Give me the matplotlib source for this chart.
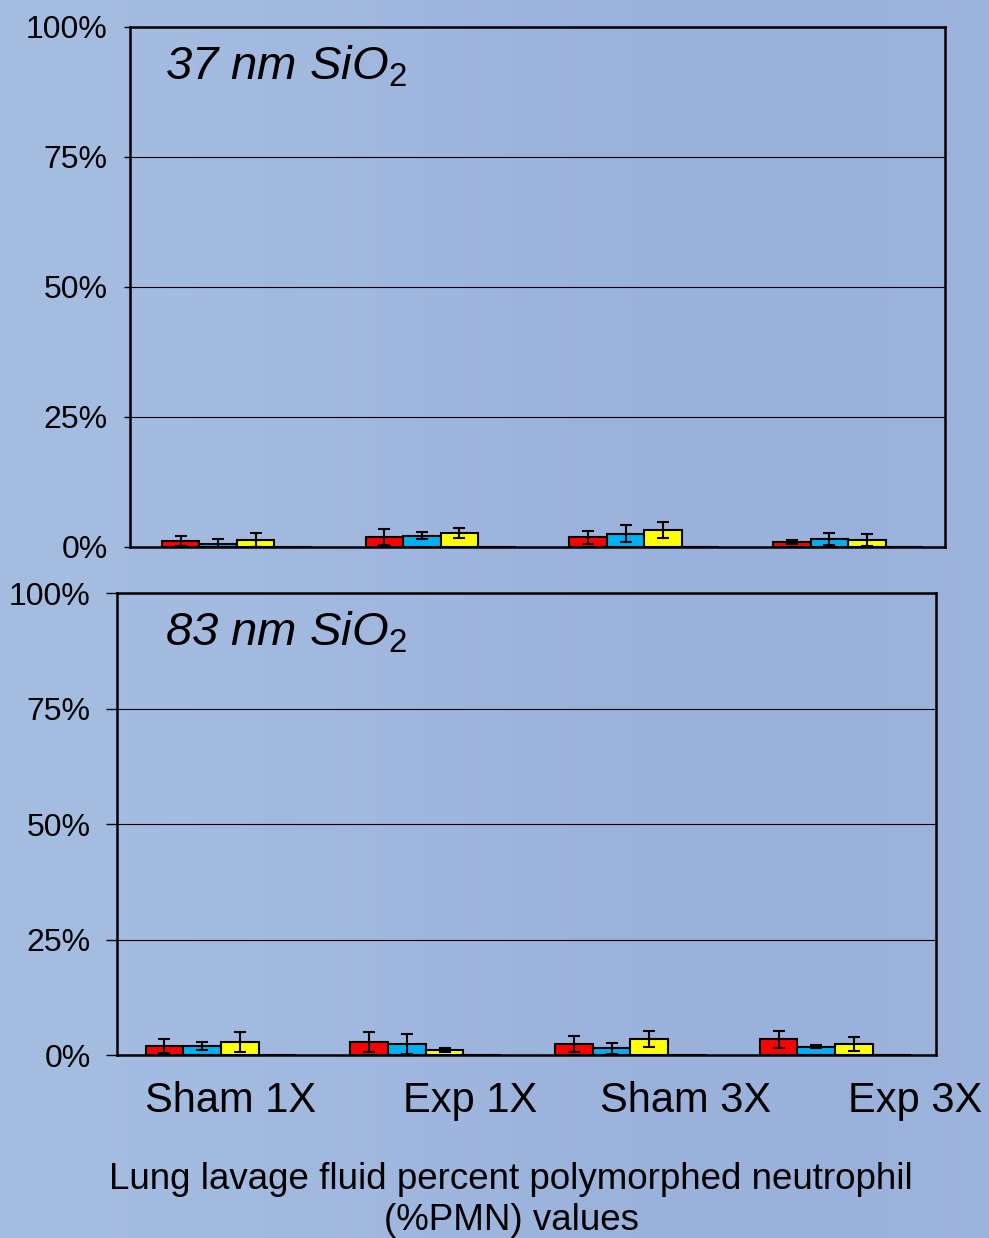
import numpy as np
import matplotlib
matplotlib.use('Agg')
import matplotlib.pyplot as plt
from matplotlib.transforms import offset_copy

plt.rcParams['font.family'] = ['Liberation Sans', 'DejaVu Sans']
plt.rcParams['mathtext.fontset'] = 'custom'
plt.rcParams['mathtext.it'] = 'Liberation Sans:italic'
plt.rcParams['mathtext.rm'] = 'Liberation Sans'

groups = ['Sham 1X', 'Exp 1X', 'Sham 3X', 'Exp 3X']
yticklabels = ['0%', '25%', '50%', '75%', '100%']

# %PMN means and errors, 37 nm particles (series 1-3, series 4 empty)
pmn37_red = [1.15, 1.9, 1.85, 0.95]
pmn37_blue = [0.6, 2.2, 2.55, 1.5]
pmn37_yellow = [1.4, 2.7, 3.2, 1.35]
pmn37_fourth = [0, 0, 0, 0]
err37_red = [0.9, 1.55, 1.2, 0.45]
err37_blue = [0.9, 0.65, 1.65, 1.15]
err37_yellow = [1.35, 0.95, 1.55, 1.15]

# %PMN means and errors, 83 nm particles
pmn83_red = [1.95, 2.75, 2.3, 3.4]
pmn83_blue = [1.9, 2.45, 1.5, 1.8]
pmn83_yellow = [2.75, 1.1, 3.4, 2.4]
pmn83_fourth = [0, 0, 0, 0]
err83_red = [1.45, 2.2, 1.75, 1.9]
err83_blue = [0.9, 2.2, 1.2, 0.3]
err83_yellow = [2.2, 0.5, 1.75, 1.6]

colors = ['#ff0000', '#00b0f0', '#ffff00', '#ffffff']

fig = plt.figure(figsize=(9.89, 12.38), dpi=100)

# soft blue slide background
bg = fig.add_axes([0, 0, 1, 1], zorder=-10)
grad = np.linspace(0, 1, 256)
shade = 0.5 + 0.5 * np.cos(grad * np.pi * 1.3)
c0 = np.array([0.650, 0.740, 0.885])
c1 = np.array([0.605, 0.695, 0.860])
img = c1 + (c0 - c1) * shade[None, :, None]
bg.imshow(np.repeat(img, 4, axis=0), aspect='auto', extent=[0, 1, 0, 1])
bg.axis('off')


def panel(rect, series, errs, label, ticklen, pad, shift, label_dx):
    ax = fig.add_axes(rect)
    ax.set_facecolor('none')
    x = np.arange(len(groups))
    w = 0.184
    for i, (vals, col) in enumerate(zip(series, colors)):
        pos = x + (i - 1.5) * w + shift
        ax.bar(pos, vals, w, color=col, edgecolor='black', linewidth=1.5, zorder=3)
        if i < len(errs):
            ax.errorbar(pos, vals, yerr=errs[i], fmt='none', ecolor='black',
                        elinewidth=1.5, capsize=4.5, capthick=1.5, zorder=4)
    ax.set_xlim(-0.5, 3.5)
    ax.set_ylim(0, 100)
    ax.set_yticks([0, 25, 50, 75, 100])
    ax.set_yticklabels(yticklabels, fontsize=23)
    ax.set_xticks([])
    ax.tick_params(axis='y', length=ticklen, width=1, pad=pad, color='black')
    ax.yaxis.grid(True, color='black', linewidth=0.8, zorder=0)
    for s in ax.spines.values():
        s.set_linewidth(1.8)
    # panel label placed a fixed distance in from the top-left corner
    tr = offset_copy(ax.transAxes, fig=fig, x=label_dx, y=-12, units='points')
    ax.text(0, 1, label, transform=tr, fontsize=34,
            fontstyle='italic', va='top', ha='left')
    return ax


top = panel([0.1314, 0.5582, 0.824, 0.42],
            [pmn37_red, pmn37_blue, pmn37_yellow, pmn37_fourth],
            [err37_red, err37_blue, err37_yellow],
            r'37 nm SiO$_2$', 4, 12, 0.025, 25)
bot = panel([0.1183, 0.1478, 0.828, 0.3732],
            [pmn83_red, pmn83_blue, pmn83_yellow, pmn83_fourth],
            [err83_red, err83_blue, err83_yellow],
            r'83 nm SiO$_2$', 8, 11, 0.008, 34.5)

# group names sit under the lower panel, shifted right of the bars
label_x = [0.2335, 0.4755, 0.6935, 0.925]
for lx, g in zip(label_x, groups):
    fig.text(lx, 0.111, g, fontsize=30, ha='center', va='center')

fig.text(0.517, 0.0305, 'Lung lavage fluid percent polymorphed neutrophil\n(%PMN) values',
         fontsize=26.5, ha='center', va='center', linespacing=1.22)

fig.savefig('out.png', dpi=100)
